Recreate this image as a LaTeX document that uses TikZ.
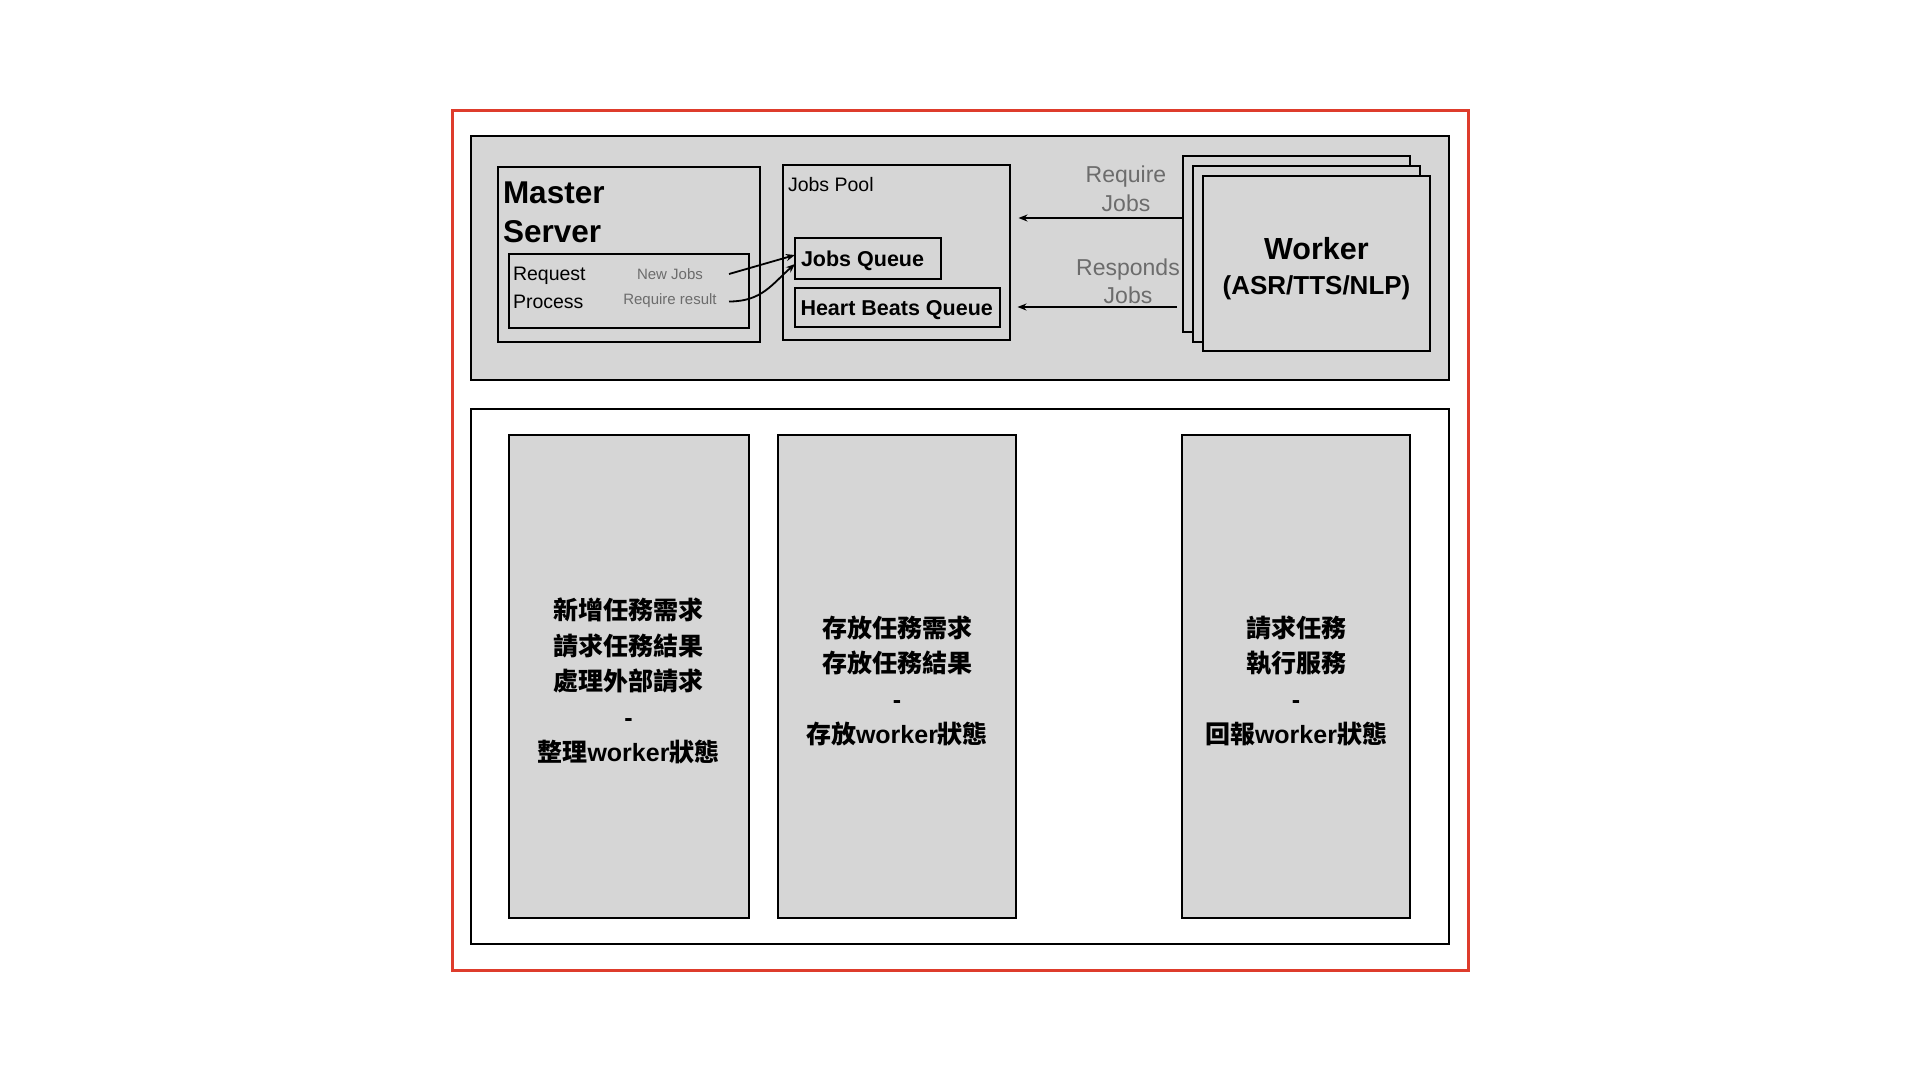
\documentclass[tikz,border=0pt]{standalone}
\usepackage{fontspec}
\setmainfont{Liberation Sans}
\newfontfamily\cjk{Noto Sans CJK TC}
\newcommand\zh[1]{{\cjk #1}}
\usetikzlibrary{arrows.meta}
\definecolor{panel}{RGB}{214,214,214}
\definecolor{redline}{RGB}{222,60,44}
\definecolor{lbl}{RGB}{108,108,108}
\tikzset{
  box/.style={draw=black, line width=2pt, fill=panel, inner sep=0pt, outer sep=0pt},
  arr/.style={-{Stealth[length=9pt,width=7pt]}, line width=1.8pt},
  txt/.style={inner sep=0pt, outer sep=0pt},
  title/.style={txt, anchor=base west, font=\fontsize{31.5}{38}\selectfont\bfseries},
  small/.style={txt, anchor=base west, font=\fontsize{19.5}{24}\selectfont},
  tiny/.style={txt, anchor=base, text=lbl, font=\fontsize{15}{18}\selectfont},
  queue/.style={txt, anchor=base west, font=\fontsize{21.5}{26}\selectfont\bfseries},
  glabel/.style={txt, anchor=base, text=lbl, font=\fontsize{23}{28}\selectfont},
  ctext/.style={inner sep=0pt, align=center, font=\fontsize{25}{35.5}\selectfont\bfseries},
}
\begin{document}
\begin{tikzpicture}[x=1pt,y=-1pt]
\useasboundingbox[fill=white] (0,0) rectangle (1920,1080);

% outer red frame and panels
\node[draw=redline, line width=3pt, minimum width=1016pt, minimum height=860pt, inner sep=0pt] (frame) at (960,540) {};
\node[box, minimum width=978pt, minimum height=244pt] (top) at (960,258) {};
\node[box, fill=white, minimum width=978pt, minimum height=535pt] (bottom) at (960,676.5) {};

% master server
\node[box, minimum width=262pt, minimum height=175pt] (ms) at (628.5,254) {};
\node[title] (mst1) at (503,203) {Master};
\node[title] (mst2) at (503,242) {Server};
\node[box, minimum width=240pt, minimum height=74pt] (rp) at (628.5,291) {};
\node[small] (rpt1) at (513,280) {Request};
\node[small] (rpt2) at (513,308) {Process};
\node[tiny] (nj) at (670,279) {New Jobs};
\node[tiny] (rr) at (670,304) {Require result};

% jobs pool
\node[box, minimum width=227pt, minimum height=175pt] (pool) at (896,252.5) {};
\node[small] (pooltxt) at (788,191) {Jobs Pool};
\node[box, minimum width=146pt, minimum height=41pt] (jq) at (868,258) {};
\node[queue] (jqtxt) at (801,266) {Jobs Queue};
\node[box, minimum width=205pt, minimum height=39pt] (hb) at (897,307.5) {};
\node[queue] (hbtxt) at (800.5,315.5) {Heart Beats Queue};

% workers
\node[box, minimum width=227pt, minimum height=176pt] (wb) at (1296.5,244) {};
\node[box, minimum width=227pt, minimum height=176pt] (wm) at (1306.5,254) {};
\node[box, minimum width=227pt, minimum height=175pt] (wf) at (1316.5,263.5) {};
\node[txt, anchor=base, font=\fontsize{30.5}{36}\selectfont\bfseries] (wtxt) at (1316.5,259) {Worker};
\node[txt, anchor=base, font=\fontsize{26}{30}\selectfont\bfseries] (wsub) at (1316.5,294) {(ASR/TTS/NLP)};

% gray labels
\node[glabel] (req1) at (1126,182) {Require};
\node[glabel] (req2) at (1126,211) {Jobs};
\node[glabel] (res1) at (1128,275) {Responds};
\node[glabel] (res2) at (1128,303) {Jobs};

% arrows
\coordinate (njs) at (729,274);
\coordinate (rrs) at (729,301.5);
\draw[arr] (njs) -- (jq.west |- 0,255);
\draw[arr] (rrs) .. controls (762,301.5) and (772,284) .. (jq.west |- 0,264);
\draw[arr] (wb.west |- 0,218) -- ([xshift=9pt]pool.east |- 0,218);
\draw[arr] ([xshift=-6pt]wb.west |- 0,307) -- ([xshift=8pt]pool.east |- 0,307);

% bottom boxes
\node[box, minimum width=240pt, minimum height=483pt] (b1) at (628.5,676) {};
\node[box, minimum width=238pt, minimum height=483pt] (b2) at (897,676) {};
\node[box, minimum width=228pt, minimum height=483pt] (b3) at (1296,676) {};

\node[ctext] (t1) at ([yshift=-5pt]b1.center) {\zh{新增任務需求}\\\zh{請求任務結果}\\\zh{處理外部請求}\\-\\\zh{整理}worker\zh{狀態}};
\node[ctext] (t2) at ([yshift=-5pt]b2.center) {\zh{存放任務需求}\\\zh{存放任務結果}\\-\\\zh{存放}worker\zh{狀態}};
\node[ctext] (t3) at ([yshift=-5pt]b3.center) {\zh{請求任務}\\\zh{執行服務}\\-\\\zh{回報}worker\zh{狀態}};
\end{tikzpicture}
\end{document}
